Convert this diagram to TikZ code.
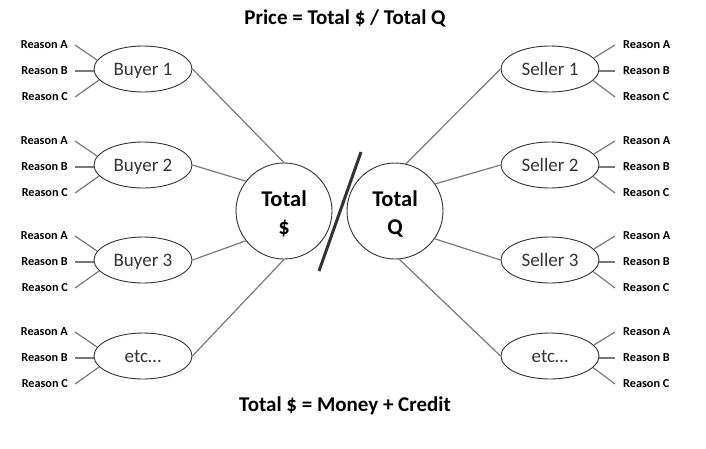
\documentclass[tikz,border=0pt]{standalone}
\usepackage{fontspec}
\setmainfont{Carlito}
\usetikzlibrary{shapes.geometric}
\definecolor{edge}{HTML}{333333}
\definecolor{partytext}{HTML}{333333}
\definecolor{linkgray}{HTML}{7A7A7A}
\definecolor{slashgray}{HTML}{333333}
\begin{document}
\begin{tikzpicture}[x=1pt,y=-1pt,
  every node/.style={inner sep=0pt},
  reason/.style={font=\bfseries\fontsize{12.2}{14}\selectfont, text height=7.8pt, text depth=0pt, inner ysep=1pt},
  party/.style={ellipse, draw=edge, line width=0.9pt, minimum width=98pt, minimum height=46pt,
    font=\fontsize{19}{21}\selectfont, text=partytext, text height=12.2pt, text depth=0pt},
  total/.style={circle, draw=edge, line width=0.9pt, minimum size=96pt},
  totaltext/.style={align=center, yshift=-3pt, font=\bfseries\fontsize{22.5}{28}\selectfont},
  link/.style={draw=linkgray, line width=1.2pt},
  slash/.style={draw=slashgray, line width=3pt},
  title/.style={font=\bfseries\fontsize{21}{24}\selectfont, anchor=base}]
\useasboundingbox (0,0) rectangle (706,448);

\node[title] (t1) at (345,24) {Price = Total \$ / Total Q};
\node[title] (t2) at (345,411) {Total \$ = Money + Credit};

\node[total, label={[totaltext]center:{Total\\\$}}] (S) at (284,211) {};
\node[total, label={[totaltext]center:{Total\\Q}}] (Q) at (395,211) {};

\coordinate (sl1) at (361,152);
\coordinate (sl2) at (319,271);
\draw[slash] (sl1) -- (sl2);

\foreach \i/\c/\lb/\ls in {1/69/Buyer 1/Seller 1, 2/165/Buyer 2/Seller 2, 3/260/Buyer 3/Seller 3, 4/356/etc…/etc…}{
  \node[party] (b\i) at (143,\c) {\lb};
  \node[party] (s\i) at (550,\c) {\ls};
  \node[reason, anchor=east, inner xsep=7pt] (la\i) at (75,\c-24) {Reason A};
  \node[reason, anchor=east, inner xsep=7pt] (lb\i) at (75,\c+2) {Reason B};
  \node[reason, anchor=east, inner xsep=7pt] (lc\i) at (75,\c+28) {Reason C};
  \node[reason, anchor=west, inner xsep=8pt] (ra\i) at (615,\c-24) {Reason A};
  \node[reason, anchor=west, inner xsep=8pt] (rb\i) at (615,\c+2) {Reason B};
  \node[reason, anchor=west, inner xsep=8pt] (rc\i) at (615,\c+28) {Reason C};
  \draw[link] (la\i.east) -- (b\i.169);
  \draw[link] (lb\i.east) -- (b\i.west |- lb\i.east);
  \draw[link] (lc\i.east) -- (b\i.194);
  \draw[link] (s\i.14) -- (ra\i.west);
  \draw[link] (s\i.east |- rb\i.west) -- (rb\i.west);
  \draw[link] (s\i.345) -- (rc\i.west);
}

\draw[link] (b1.east) -- (S.90);
\draw[link] (b2.east) -- (S.142);
\draw[link] (b3.east) -- (S.218);
\draw[link] (b4.east) -- (S.270);
\draw[link] (s1.west) -- (Q.77);
\draw[link] (s2.west) -- (Q.34);
\draw[link] (s3.west) -- (Q.325);
\draw[link] (s4.west) -- (Q.275);
\end{tikzpicture}
\end{document}
